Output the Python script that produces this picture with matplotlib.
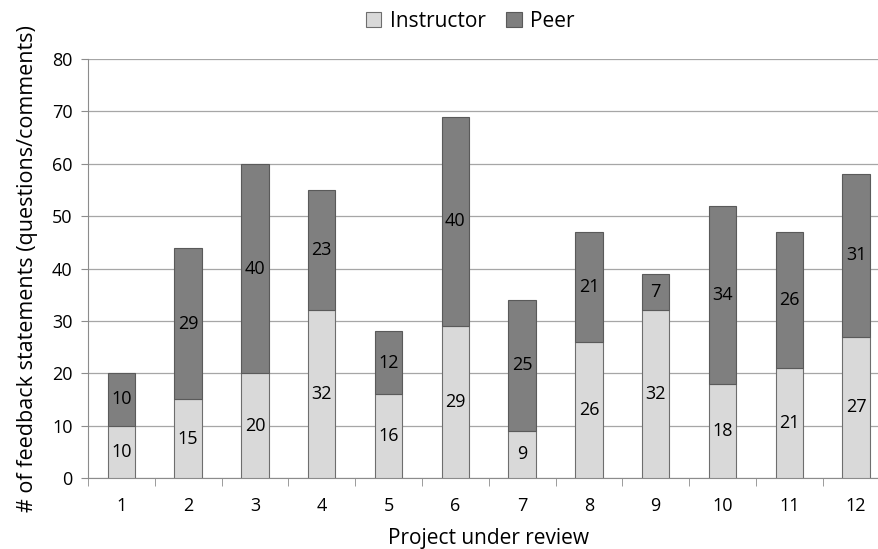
import matplotlib
matplotlib.use('Agg')
from matplotlib import pyplot as plt
import numpy as np

plt.rcParams['font.family'] = ['Open Sans', 'DejaVu Sans']

projects = ['1', '2', '3', '4', '5', '6', '7', '8', '9', '10', '11', '12']
instructor = [10, 15, 20, 32, 16, 29, 9, 26, 32, 18, 21, 27]
peer = [10, 29, 40, 23, 12, 40, 25, 21, 7, 34, 26, 31]

fig = plt.figure(figsize=(8.79, 5.49), dpi=100)
# plot area runs a little past the right edge, as in the original
ax = fig.add_axes([0.1, 0.1293, 0.912, 0.763])

x = np.arange(len(projects))
w = 0.41
b1 = ax.bar(x, instructor, w, color='#d9d9d9', edgecolor='#6e6e6e', linewidth=0.8, label='Instructor', zorder=3)
b2 = ax.bar(x, peer, w, bottom=instructor, color='#7f7f7f', edgecolor='#5a5a5a', linewidth=0.8, label='Peer', zorder=3)

for i in range(len(x)):
    ax.text(x[i], instructor[i] / 2, str(instructor[i]), ha='center', va='center', fontsize=13, color='black', zorder=4)
    ax.text(x[i], instructor[i] + peer[i] / 2, str(peer[i]), ha='center', va='center', fontsize=13, color='black', zorder=4)

ax.set_xlim(-0.5, len(x) - 0.5)
ax.set_ylim(0, 80)
ax.set_yticks(range(0, 81, 10))
ax.yaxis.grid(True, color='#a6a6a6', linewidth=0.9, zorder=0)
ax.set_xticks(x)
ax.set_xticklabels(projects, fontsize=13)
ax.set_xticks(np.arange(-0.5, len(x), 1), minor=True)
ax.tick_params(axis='x', which='major', length=0, pad=14)
ax.tick_params(axis='x', which='minor', length=6, color='#8c8c8c', direction='out')
ax.tick_params(axis='y', labelsize=13, length=5, color='#8c8c8c', direction='out', pad=6)
for s in ['top', 'right']:
    ax.spines[s].set_visible(False)
for s in ['left', 'bottom']:
    ax.spines[s].set_color('#8c8c8c')

ax.set_xlabel('Project under review', fontsize=15, labelpad=9)
ax.set_ylabel('# of feedback statements (questions/comments)', fontsize=15.5, labelpad=10)

fig.legend(handles=[b1, b2], loc='upper center', bbox_to_anchor=(0.535, 1.015), ncol=2, frameon=False,
           fontsize=15, handlelength=0.75, handleheight=0.75, columnspacing=1.0, handletextpad=0.4)

fig.savefig('out.png', dpi=100)
